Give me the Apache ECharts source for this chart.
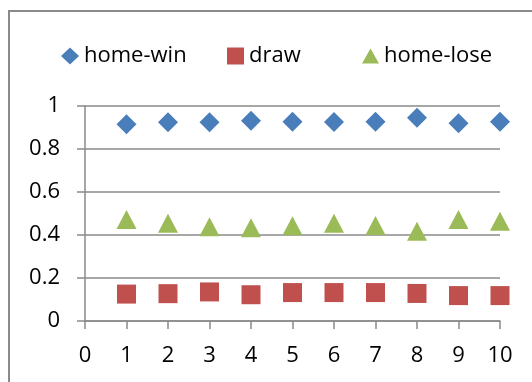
<!DOCTYPE html>
<html>
<head>
<meta charset="utf-8">
<script src="https://cdn.jsdelivr.net/npm/echarts@6/dist/echarts.min.js"></script>
<style>html,body{margin:0;padding:0;background:#fff}#c{width:532px;height:382px}</style>
</head>
<body>
<div id="c"></div>
<script>
const xValues = [1, 2, 3, 4, 5, 6, 7, 8, 9, 10];
const homeWin = [0.914, 0.923, 0.923, 0.930, 0.926, 0.924, 0.926, 0.944, 0.918, 0.926];
const draw = [0.125, 0.127, 0.135, 0.122, 0.132, 0.132, 0.132, 0.128, 0.118, 0.118];
const homeLose = [0.471, 0.454, 0.438, 0.433, 0.442, 0.454, 0.444, 0.417, 0.472, 0.463];
const seriesNames = ['home-win', 'draw', 'home-lose'];

const FONT = 'Open Sans';
const pair = (vals) => xValues.map((x, i) => [x, vals[i]]);
const chart = echarts.init(document.getElementById('c'), null, {renderer: 'canvas'});
const legendText = {fontFamily: FONT, fontSize: 22, color: '#000'};
chart.setOption({
  animation: false,
  backgroundColor: '#fff',
  graphic: [{
    type: 'rect', z: -10, silent: true,
    shape: {x: 9, y: 11, width: 700, height: 600},
    style: {fill: null, stroke: '#8a8a8a', lineWidth: 2}
  }],
  legend: [
    {data: [seriesNames[0]], left: 56, top: 40, itemWidth: 18, itemHeight: 17, itemGap: 0, textStyle: legendText},
    {data: [seriesNames[1]], left: 222, top: 40, itemWidth: 17, itemHeight: 17, itemGap: 0, textStyle: legendText},
    {data: [seriesNames[2]], left: 357, top: 40, itemWidth: 17, itemHeight: 15, itemGap: 0, textStyle: legendText}
  ],
  grid: {left: 85, right: 32, top: 105.7, bottom: 61, containLabel: false},
  xAxis: {
    type: 'value', min: 0, max: 10, interval: 1,
    axisLine: {show: true, lineStyle: {color: '#8a8a8a', width: 1.5}},
    axisTick: {show: true, length: 8, lineStyle: {color: '#8a8a8a', width: 1.5}},
    splitLine: {show: false},
    axisLabel: {margin: 24, fontFamily: FONT, fontSize: 22, color: '#000'}
  },
  yAxis: {
    type: 'value', min: 0, max: 1, interval: 0.2,
    axisLine: {show: true, lineStyle: {color: '#8a8a8a', width: 1.5}},
    axisTick: {show: true, length: 8, lineStyle: {color: '#8a8a8a', width: 1.5}},
    splitLine: {show: true, lineStyle: {color: '#8a8a8a', width: 1.5}},
    axisLabel: {margin: 25, fontFamily: FONT, fontSize: 22, color: '#000'}
  },
  series: [
    {name: seriesNames[0], type: 'scatter', symbol: 'diamond', symbolSize: [20, 20],
     itemStyle: {color: '#4a7ebb', opacity: 1}, data: pair(homeWin)},
    {name: seriesNames[1], type: 'scatter', symbol: 'rect', symbolSize: [19, 19],
     itemStyle: {color: '#c0504d', opacity: 1}, data: pair(draw)},
    {name: seriesNames[2], type: 'scatter', symbol: 'triangle', symbolSize: [20, 19],
     itemStyle: {color: '#9bbb59', opacity: 1}, data: pair(homeLose)}
  ]
});
</script>
</body>
</html>
